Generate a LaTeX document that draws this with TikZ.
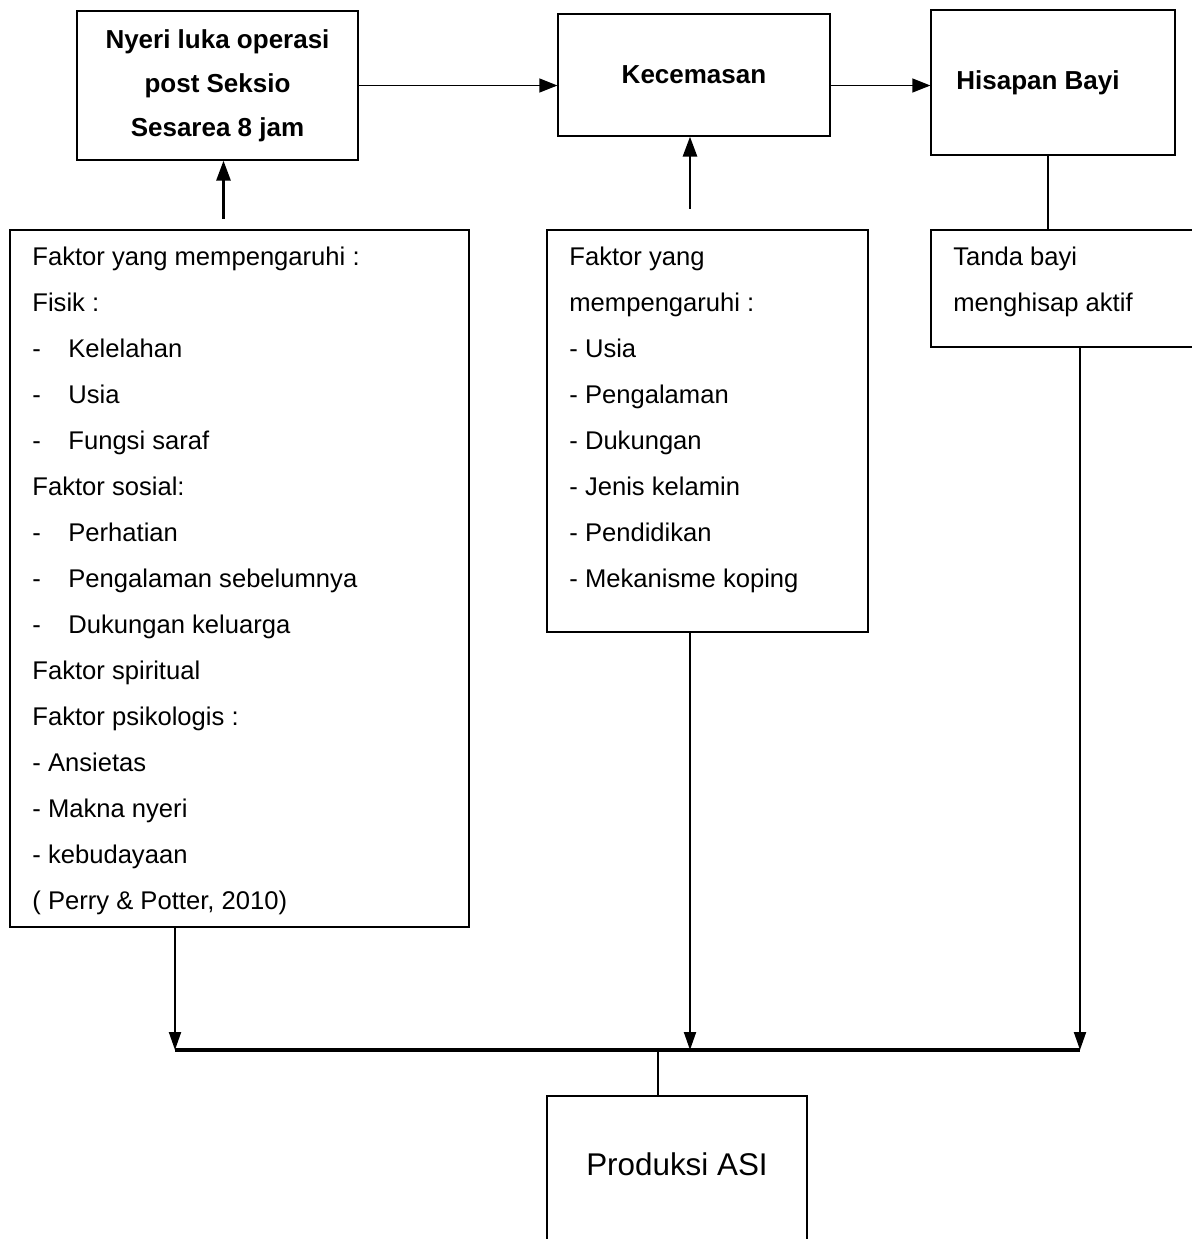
\documentclass[tikz,border=0pt]{standalone}
\usepackage{fontspec}
\setmainfont{Liberation Sans}
\usetikzlibrary{arrows.meta}
\tikzset{
  thinbox/.style={draw,line width=0.6pt,align=center,inner sep=0pt,
    font=\fontsize{13}{22}\selectfont\bfseries},
  thickbox/.style={draw,line width=1.3pt,inner sep=0pt},
  txt/.style={anchor=north west,inner sep=0pt,align=left,
    font=\fontsize{12.8}{23}\selectfont},
  arr/.style={-{Triangle[length=9pt,width=7pt]},line width=0.6pt},
  uparr/.style={-{Triangle[length=10pt,width=7pt]},line width=1.4pt},
  downarr/.style={-{Triangle[length=9pt,width=6pt]},line width=1pt}
}
\newcommand{\itm}[1]{\makebox[18pt][l]{-}#1}
\begin{document}
\begin{tikzpicture}[x=0.5pt,y=-0.5pt]
\useasboundingbox (0,0) rectangle (1191,1239);
% top row:
\node[thinbox,minimum width=140.5pt,minimum height=74.5pt] (nyeri) at (217.5,85.5)
  {Nyeri luka operasi\\post Seksio\\Sesarea 8 jam};
\node[thinbox,minimum width=136pt,minimum height=61pt] (cemas) at (694,75) {Kecemasan};
\node[thinbox,minimum width=122pt,minimum height=72.5pt] (hisap) at (1053,82.5) {Hisapan Bayi\hspace*{15pt}};
% factor boxes:
\node[thickbox,minimum width=229.5pt,minimum height=348.5pt] (fnyeri) at (239.5,578.5) {};
\node[thickbox,minimum width=160.5pt,minimum height=201pt] (fcemas) at (707.5,431) {};
\node[thickbox,minimum width=134.5pt,minimum height=58.5pt] (tanda) at (1065.5,288.5) {};
\node[txt] (tnyeri) at (32,247) {Faktor yang mempengaruhi :\\Fisik :\\
  \itm{Kelelahan}\\\itm{Usia}\\\itm{Fungsi saraf}\\Faktor sosial:\\
  \itm{Perhatian}\\\itm{Pengalaman sebelumnya}\\\itm{Dukungan keluarga}\\
  Faktor spiritual\\Faktor psikologis :\\- Ansietas\\- Makna nyeri\\
  - kebudayaan\\( Perry \& Potter, 2010)};
\node[txt] (tcemas) at (569,247) {Faktor yang\\mempengaruhi :\\- Usia\\- Pengalaman\\
  - Dukungan\\- Jenis kelamin\\- Pendidikan\\- Mekanisme koping};
\node[txt] (ttanda) at (953,247) {Tanda bayi\\menghisap aktif};
% result:
\node[draw,line width=1pt,anchor=north,minimum width=130pt,inner sep=0pt,
  text height=39.5pt,text depth=45pt,font=\fontsize{15.7}{18}\selectfont] (asi) at (677,1095) {Produksi ASI};
% joins:
\coordinate (jl) at (175,1050);
\coordinate (jm) at (690,1050);
\coordinate (jr) at (1080,1050);
\coordinate (jc) at (658,1050);
% connectors:
\draw[arr] (nyeri.east) -- (nyeri.east -| cemas.west);
\draw[arr] (nyeri.east -| cemas.east) -- (nyeri.east -| hisap.west);
\draw[uparr] ([xshift=3pt,yshift=5pt]nyeri.south |- fnyeri.north) -- ([xshift=3pt]nyeri.south);
\draw[uparr] ([xshift=-2pt,yshift=10pt]cemas.south |- fcemas.north) -- ([xshift=-2pt]cemas.south);
\draw[line width=1.3pt] ([xshift=-2.5pt]hisap.south) -- ([xshift=-2.5pt]hisap.south |- tanda.north);
\draw[downarr] (fnyeri.south -| jl) -- (jl);
\draw[downarr] (fcemas.south -| jm) -- (jm);
\draw[downarr] (tanda.south -| jr) -- (jr);
\draw[line width=2pt] (jl) -- (jr);
\draw[line width=1pt] (jc) -- (jc |- asi.north);
\end{tikzpicture}
\end{document}
